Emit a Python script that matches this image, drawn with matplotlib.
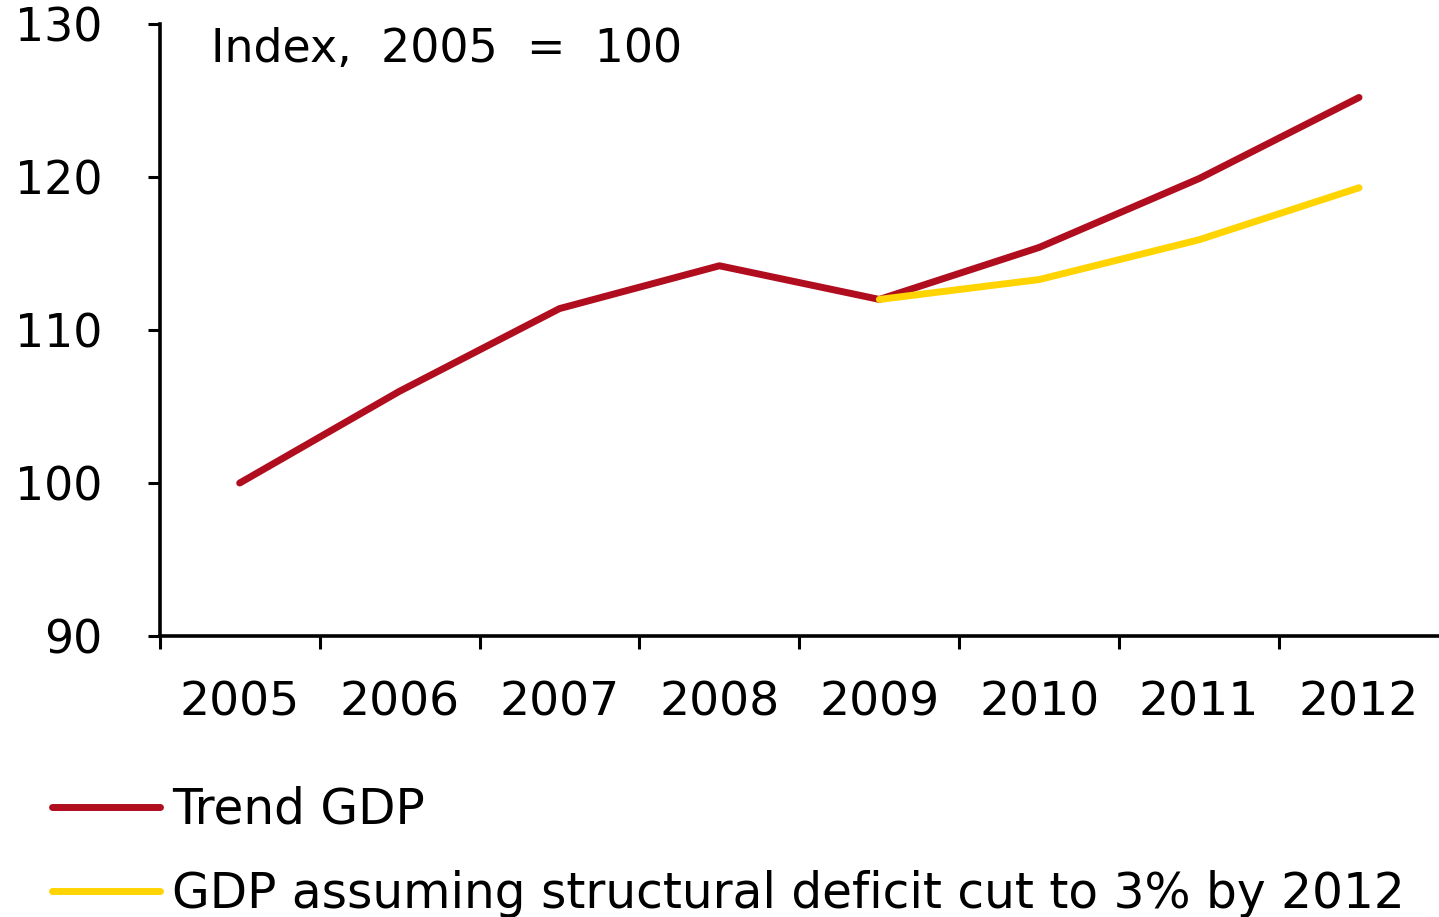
import numpy as np
import matplotlib.pyplot as plt

years = ["2005", "2006", "2007", "2008", "2009", "2010", "2011", "2012"]
trend_gdp = [100.0, 106.0, 111.4, 114.2, 112.0, 115.4, 119.9, 125.2]
cut_years = ["2009", "2010", "2011", "2012"]
cut_gdp = [112.0, 113.3, 115.9, 119.3]

red = "#B00D1E"
yellow = "#FFD400"

plt.rcParams["font.family"] = ["DejaVu Sans"]

fig = plt.figure(figsize=(14.39, 9.17), dpi=100)
ax = fig.add_axes([0.111, 0.3064, 0.889, 0.6674])

x = np.arange(len(years))
x_cut = np.array([years.index(y) for y in cut_years])

ax.plot(x, trend_gdp, color=red, lw=5, solid_capstyle="round",
        solid_joinstyle="round", label="Trend GDP")
ax.plot(x_cut, cut_gdp, color=yellow, lw=5, solid_capstyle="round",
        solid_joinstyle="round",
        label="GDP assuming structural deficit cut to 3% by 2012")

ax.set_xlim(-0.5, len(years) - 0.5)
ax.set_ylim(90, 130)
ax.set_yticks([90, 100, 110, 120, 130])

# boundary ticks between years, labels sit in the middle
ax.set_xticks(np.arange(len(years)) - 0.5)
ax.set_xticklabels([])
ax.set_xticks(x, minor=True)
ax.set_xticklabels(years, minor=True)

ax.tick_params(axis="x", which="major", length=9, width=2.2, direction="out")
ax.tick_params(axis="x", which="minor", length=0, pad=32, labelsize=34)
ax.tick_params(axis="y", length=9, width=2.2, direction="out", pad=32,
               labelsize=33)

for side in ["top", "right"]:
    ax.spines[side].set_visible(False)
for side in ["left", "bottom"]:
    ax.spines[side].set_linewidth(2.6)

ax.text(0.04, 0.995, "Index,  2005  =  100", transform=ax.transAxes,
        fontsize=33, va="top", ha="left")

fig.legend(loc="upper left", bbox_to_anchor=(0.036, 0.143),
           frameon=False, fontsize=35, handlelength=2.22, handletextpad=0.25,
           labelspacing=0.74, borderpad=0, borderaxespad=0)

fig.savefig("out.png", dpi=100)
